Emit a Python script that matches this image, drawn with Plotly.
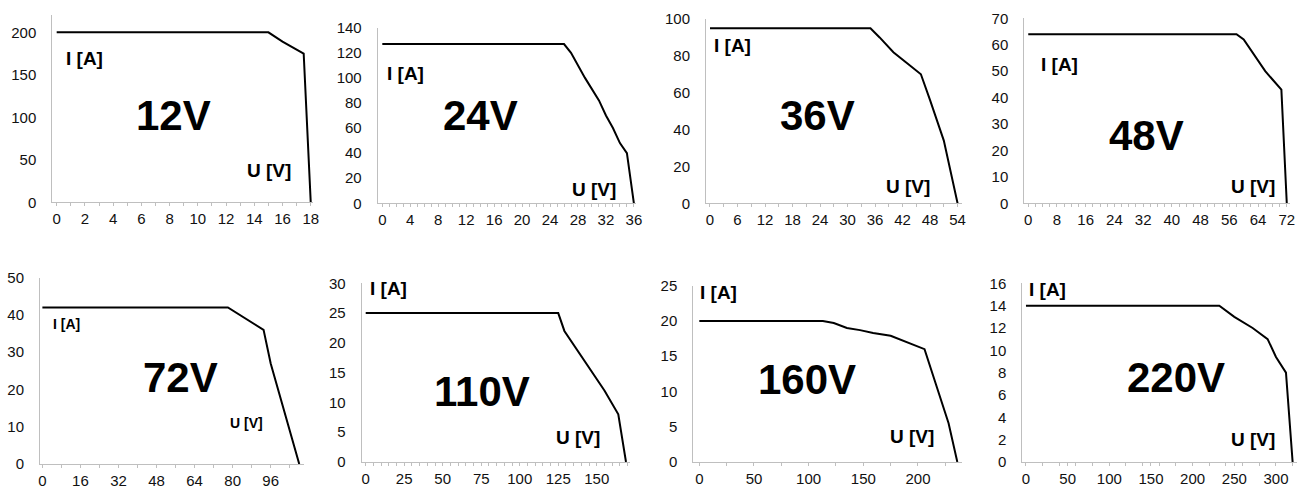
import plotly.graph_objects as go

W, H = 1303, 494

# ---- data (U [V] vs I [A]) ----
u_12v = [0, 15, 16, 17.5, 18]
i_12v = [200, 200, 189, 175, 0]
u_24v = [0, 26, 27, 28, 29, 31, 32, 33, 34, 35, 36]
i_24v = [127, 127, 120, 110, 100, 82, 70, 60, 48, 40, 0]
u_36v = [0, 35, 37, 40, 43, 46, 48, 51, 54]
i_36v = [95, 95, 90, 82, 76, 70, 56, 34, 0]
u_48v = [0, 58, 60, 64, 66, 70.5, 72]
i_48v = [64, 64, 62, 54, 50, 43, 0]
u_72v = [0, 78, 93, 96, 108]
i_72v = [42, 42, 36, 27, 0]
u_110v = [0, 125, 129, 155, 164, 169]
i_110v = [25, 25, 22, 12, 8, 0]
u_160v = [0, 113, 123, 135, 147, 159, 175, 185, 206, 228, 236]
i_160v = [20, 20, 19.7, 19, 18.7, 18.3, 17.9, 17.3, 16, 5.5, 0]
u_220v = [0, 232, 250, 272, 290, 300, 312, 320]
i_220v = [14, 14, 13, 12, 11, 9.4, 8, 0]

titles = ["12V", "24V", "36V", "48V", "72V", "110V", "160V", "220V"]
u_series = [u_12v, u_24v, u_36v, u_48v, u_72v, u_110v, u_160v, u_220v]
i_series = [i_12v, i_24v, i_36v, i_48v, i_72v, i_110v, i_160v, i_220v]
x_dticks = [2, 4, 6, 8, 16, 25, 50, 50]
x_minor = [1, 1, 3, 2, 8, 5, 25, 20]
y_dticks = [50, 20, 20, 10, 10, 5, 5, 2]
y_max = [220, 140, 100, 70, 50, 30, 25, 16]
x_ranges = [[-0.31, 18.16], [-0.66, 36.3], [-0.87, 54.9], [-1.1, 72.9],
            [-1.0, 110], [-2.6, 171.6], [-5.5, 240], [-4.4, 325.6]]

# ---- layout geometry (pixels) ----
plot_px = [  # left, right, top, bottom
    (52.3, 313, 15.3, 202.3), (377.7, 636, 27.7, 203.3),
    (706, 961.7, 19, 203.3), (1024.3, 1290, 18.3, 203.3),
    (40, 304, 277.7, 464), (361.7, 630, 283.3, 462),
    (693.3, 961.7, 285.7, 462), (1022.3, 1297.3, 283.3, 462),
]
big_pos = [(173.5, 115), (480.5, 115), (817, 115), (1146, 136),
           (180.5, 377.5), (481.5, 391), (807, 379.5), (1176, 377.5)]
ia_pos = [(84, 59), (405, 74), (732, 45), (1059.5, 64),
          (66.5, 324), (389, 288.5), (718.5, 292.5), (1047.5, 289.5)]
uv_pos = [(269, 170), (594, 190), (908, 187), (1253, 187),
          (246.5, 422.5), (578, 437), (911.5, 436), (1252.5, 439)]
small_lbl = [19, 19, 19, 19, 14, 19, 19, 19]

FONT = "Liberation Sans, Arial, sans-serif"
fig = go.Figure()
annotations = []
for k in range(8):
    n = "" if k == 0 else str(k + 1)
    xa, ya = "x" + n, "y" + n
    l, r, t, b = plot_px[k]
    fig.add_trace(go.Scatter(x=u_series[k], y=i_series[k], mode="lines",
                             line=dict(color="black", width=2),
                             xaxis=xa, yaxis=ya, showlegend=False,
                             hoverinfo="x+y"))
    fig.layout["xaxis" + n] = dict(
        domain=[l / W, r / W], anchor=ya, range=x_ranges[k], automargin=False,
        dtick=x_dticks[k], tick0=0, showgrid=False, zeroline=False,
        showline=True, linecolor="#bfbfbf", linewidth=1,
        ticks="outside", ticklen=3, tickcolor="#bfbfbf",
        minor=dict(dtick=x_minor[k], tick0=0, ticks="outside", ticklen=3,
                   tickcolor="#bfbfbf", showgrid=False),
        tickfont=dict(family=FONT, size=15, color="#111"),
        ticklabelstandoff=0, fixedrange=True)
    fig.layout["yaxis" + n] = dict(
        domain=[1 - b / H, 1 - t / H], anchor=xa, range=[0, y_max[k]],
        automargin=False,
        dtick=y_dticks[k], tick0=0, showgrid=False, zeroline=False,
        showline=True, linecolor="#bfbfbf", linewidth=1, ticks="",
        tickfont=dict(family=FONT, size=15, color="#111"),
        ticklabelstandoff=12, fixedrange=True)
    for (px, py), txt, sz in ((big_pos[k], titles[k], 42),
                              (ia_pos[k], "I [A]", small_lbl[k]),
                              (uv_pos[k], "U [V]", small_lbl[k])):
        annotations.append(dict(x=px / W, y=1 - py / H, xref="paper", yref="paper",
                                text="<b>%s</b>" % txt, showarrow=False,
                                xanchor="center", yanchor="middle",
                                font=dict(family=FONT, size=sz, color="black")))

fig.update_layout(width=W, height=H, margin=dict(l=0, r=0, t=0, b=0, pad=0),
                  template="none",
                  paper_bgcolor="white", plot_bgcolor="white",
                  annotations=annotations)
fig.write_html("out.html", config={"responsive": False, "displayModeBar": False},
               post_script="document.body.style.margin='0';"
                           "document.body.style.overflow='hidden';")
